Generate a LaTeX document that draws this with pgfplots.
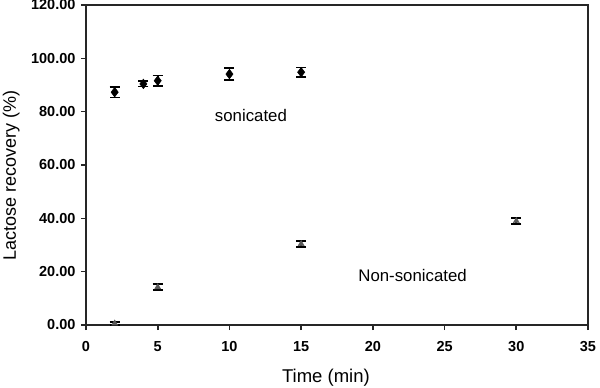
\documentclass[border=0pt]{standalone}
\usepackage{pgfplots}
\pgfplotsset{compat=1.18}
\usepackage{fontspec}
\setmainfont{Liberation Sans}
\begin{document}
\begin{tikzpicture}[x=1pt,y=1pt]
\begin{axis}[
  name=ax,
  scale only axis,
  width=502pt, height=320pt,
  xmin=0, xmax=35, ymin=0, ymax=120,
  xtick={0,5,...,35}, ytick={0,20,...,120},
  tick align=outside,
  xtick pos=left, ytick pos=left,
  major tick length=5pt,
  axis line style={line width=1.6pt, color=black!85},
  every tick/.style={line width=1.6pt, color=black!85},
  /pgf/number format/assume math mode=true,
  tick label style={font=\fontsize{14.5}{17}\selectfont\bfseries},
  yticklabel style={xshift=-2pt, /pgf/number format/.cd, fixed, fixed zerofill, precision=2},
  xticklabel style={yshift=-8pt, /pgf/number format/.cd, fixed, precision=0},
  xlabel={Time (min)},
  ylabel={Lactose recovery (\%)},
  every axis x label/.style={at={(axis description cs:0.478,-0.181)}, anchor=base, font=\fontsize{18.5}{22}\selectfont},
  every axis y label/.style={at={(axis description cs:-0.149,0.466)}, rotate=90, anchor=center, font=\fontsize{18}{22}\selectfont},
  clip=false,
]
\addplot+[only marks, black, mark=diamond*, mark size=4.8pt, mark options={fill=black, line width=0.5pt},
  error bars/.cd, y dir=both, y explicit,
  error bar style={line width=1.6pt, black},
  error mark options={mark size=5pt, line width=1.6pt, rotate=90}]
  coordinates {
  (2,87.3) +- (0,2.0)
  (4,90.4) +- (0,1.0)
  (5,91.6) +- (0,2.0)
  (10,94.1) +- (0,2.2)
  (15,94.8) +- (0,1.8)
};
\addplot+[only marks, black, mark=triangle*, mark size=3.5pt, mark options={fill=black!65, draw=black!65},
  error bars/.cd, y dir=both, y explicit,
  error bar style={line width=1.6pt, black},
  error mark options={mark size=5pt, line width=1.6pt, rotate=90}]
  coordinates {
  (2,0.6) +- (0,0.5)
  (5,14.2) +- (0,1.1)
  (15,30.4) +- (0,1.1)
  (30,39.0) +- (0,1.2)
};
\node[font=\fontsize{16.8}{20}\selectfont] at (axis cs:11.5,78.75) {sonicated};
\node[font=\fontsize{16.8}{20}\selectfont] at (axis cs:22.77,18.4) {Non-sonicated};
\end{axis}
\pgfresetboundingbox
\path ([shift={(-86pt,-63pt)}]ax.south west) rectangle ([shift={(12pt,5pt)}]ax.north east);
\end{tikzpicture}
\end{document}
